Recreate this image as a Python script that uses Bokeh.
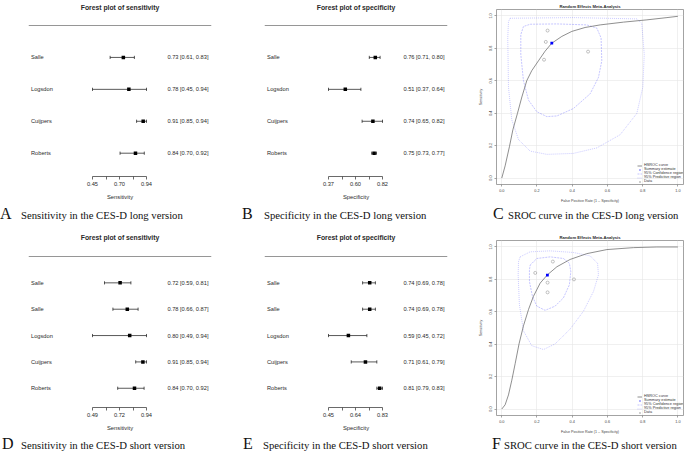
import numpy as np
from bokeh.plotting import figure
from bokeh.models import Range1d, FixedTicker, Span, Div, PrintfTickFormatter, Legend, LegendItem
from bokeh.layouts import row, column
from bokeh.embed import file_html
from bokeh.resources import INLINE
from bokeh.core.properties import value

# ---------------- data ----------------
long_studies = ["Salle", "Logsdon", "Cuijpers", "Roberts"]
long_sens = [0.73, 0.78, 0.91, 0.84]
long_sens_lo = [0.61, 0.45, 0.85, 0.70]
long_sens_hi = [0.83, 0.94, 0.94, 0.92]
long_spec = [0.76, 0.51, 0.74, 0.75]
long_spec_lo = [0.71, 0.37, 0.65, 0.73]
long_spec_hi = [0.80, 0.64, 0.82, 0.77]

short_studies = ["Salle", "Salle", "Logsdon", "Cuijpers", "Roberts"]
short_sens = [0.72, 0.78, 0.80, 0.91, 0.84]
short_sens_lo = [0.59, 0.66, 0.49, 0.85, 0.70]
short_sens_hi = [0.81, 0.87, 0.94, 0.94, 0.92]
short_spec = [0.74, 0.74, 0.59, 0.71, 0.81]
short_spec_lo = [0.69, 0.69, 0.45, 0.61, 0.79]
short_spec_hi = [0.78, 0.78, 0.72, 0.79, 0.83]

# forest axis ends and labels (first, middle, last)
axis_A = [0.45, 0.94]; axis_A_labels = ["0.45", "0.70", "0.94"]
axis_B = [0.37, 0.82]; axis_B_labels = ["0.37", "0.60", "0.82"]
axis_D = [0.49, 0.94]; axis_D_labels = ["0.49", "0.72", "0.94"]
axis_E = [0.45, 0.83]; axis_E_labels = ["0.45", "0.64", "0.83"]

# SROC: HSROC curves (FPR, sensitivity)
long_curve_fpr = [0.0, 0.019, 0.044, 0.063, 0.089, 0.114, 0.142, 0.170, 0.208, 0.246, 0.284,
                  0.341, 0.398, 0.473, 0.559, 0.691, 0.824, 0.938, 1.0]
long_curve_sens = [0.0, 0.075, 0.196, 0.298, 0.399, 0.500, 0.601, 0.662, 0.723, 0.783, 0.832,
                   0.874, 0.905, 0.929, 0.945, 0.962, 0.976, 0.990, 0.998]
short_curve_fpr = [0.0, 0.019, 0.038, 0.057, 0.076, 0.098, 0.123, 0.152, 0.180, 0.218, 0.259,
                   0.313, 0.388, 0.483, 0.597, 0.748, 0.881, 1.0]
short_curve_sens = [0.0, 0.026, 0.087, 0.178, 0.280, 0.402, 0.513, 0.615, 0.696, 0.777, 0.828,
                    0.878, 0.923, 0.959, 0.984, 0.996, 1.0, 1.0]

# 95% confidence regions
long_conf_fpr = [0.161, 0.313, 0.483, 0.540, 0.564, 0.568, 0.549, 0.502, 0.407, 0.313, 0.256,
                 0.199, 0.152, 0.123, 0.108, 0.108, 0.123]
long_conf_sens = [0.949, 0.951, 0.945, 0.925, 0.864, 0.723, 0.621, 0.520, 0.429, 0.383, 0.379,
                  0.409, 0.480, 0.601, 0.763, 0.885, 0.935]
short_conf_fpr = [0.161, 0.199, 0.275, 0.350, 0.384, 0.392, 0.384, 0.350, 0.303, 0.246, 0.199,
                  0.174, 0.157, 0.157]
short_conf_sens = [0.888, 0.929, 0.939, 0.929, 0.899, 0.848, 0.767, 0.686, 0.635, 0.609, 0.635,
                   0.696, 0.787, 0.858]

# 95% predictive regions
long_pred_fpr = [0.047, 0.407, 0.767, 0.795, 0.809, 0.801, 0.767, 0.672, 0.540, 0.407, 0.256,
                 0.161, 0.095, 0.057, 0.038, 0.034, 0.038]
long_pred_sens = [0.986, 0.990, 0.982, 0.955, 0.763, 0.561, 0.399, 0.267, 0.186, 0.152, 0.146,
                  0.166, 0.237, 0.358, 0.561, 0.864, 0.965]
short_pred_fpr = [0.104, 0.161, 0.275, 0.407, 0.502, 0.544, 0.549, 0.521, 0.464, 0.388, 0.303,
                  0.237, 0.170, 0.123, 0.100, 0.093, 0.095]
short_pred_sens = [0.939, 0.970, 0.976, 0.966, 0.945, 0.899, 0.828, 0.726, 0.604, 0.493, 0.402,
                   0.367, 0.391, 0.483, 0.645, 0.828, 0.909]

# summary estimates (FPR, sensitivity)
long_summary = [0.284, 0.832]
short_summary = [0.259, 0.826]

sroc_ticks = [0.0, 0.2, 0.4, 0.6, 0.8, 1.0]

# ---------------- layout helpers ----------------
FONT = "Liberation Sans"
SERIF = "Liberation Serif"
TXT = "#2a2a2a"


def forest(title, xlabel, names, est, lo, hi, axis_ends, axis_labels, w, h,
           title_px, line_px, axis_px):
    k = len(names)
    left = 28
    fw = 183
    right = w - left - fw
    bottom = h - axis_px
    ppu = (axis_px - line_px) / (k + 0.73)
    y0 = 0.27
    y1 = k + 1 + line_px / ppu
    a0, a1 = axis_ends
    sp = a1 - a0
    x0 = a0 - 64 / 54 * sp
    x1 = a1 + 65 / 54 * sp
    p = figure(width=w, height=h, x_range=Range1d(x0, x1), y_range=Range1d(y0, y1),
               output_backend="svg", toolbar_location=None, y_axis_location=None,
               min_border_left=left, min_border_right=right, min_border_top=0,
               min_border_bottom=bottom)
    p.grid.visible = False
    p.outline_line_color = None
    p.background_fill_color = "white"
    p.border_fill_color = "white"

    title_y = k + 1 + (line_px - title_px) / ppu
    p.text(x=[(x0 + x1) / 2], y=[title_y], text=[title], text_font=value(FONT),
           text_font_size=value("6.8px"), text_font_style="bold", text_align="center",
           text_baseline="middle", text_color=TXT)

    ys = [k - i for i in range(k)]
    p.add_layout(Span(location=k + 1, dimension="width", line_color="#8a8a8a", line_width=0.9))
    p.segment(x0=lo, y0=ys, x1=hi, y1=ys, line_color="#111111", line_width=0.7)
    p.scatter(x=lo, y=ys, marker="dash", angle=np.pi / 2, size=3.2, line_color="#111111", line_width=0.7)
    p.scatter(x=hi, y=ys, marker="dash", angle=np.pi / 2, size=3.2, line_color="#111111", line_width=0.7)
    p.scatter(x=est, y=ys, marker="square", size=3.5, fill_color="#000000", line_color=None)

    span_x = x1 - x0
    lab_x = x0 + 2.5 / fw * span_x
    val_x = x1 - 3 / fw * span_x
    p.text(x=[lab_x] * k, y=ys, text=names, text_font=value(FONT), text_font_size=value("5.7px"),
           text_align="left", text_baseline="middle", text_color=TXT)
    vals = [f"{e:.2f} [{l:.2f}, {u:.2f}]" for e, l, u in zip(est, lo, hi)]
    p.text(x=[val_x] * k, y=ys, text=vals, text_font=value(FONT), text_font_size=value("5.7px"),
           text_align="right", text_baseline="middle", text_color=TXT)

    ticks = [float(t) for t in np.linspace(a0, a1, 5)]
    ax = p.xaxis[0]
    ax.bounds = (a0, a1)
    ax.ticker = FixedTicker(ticks=ticks)
    ax.major_label_overrides = {ticks[0]: axis_labels[0], ticks[1]: "", ticks[2]: axis_labels[1],
                                ticks[3]: "", ticks[4]: axis_labels[2]}
    ax.axis_label = xlabel
    ax.axis_label_text_font = FONT
    ax.axis_label_text_font_style = "normal"
    ax.axis_label_text_font_size = "5.8px"
    ax.axis_label_text_color = TXT
    ax.axis_label_standoff = 5
    ax.major_label_text_font = FONT
    ax.major_label_text_font_size = "5.7px"
    ax.major_label_text_color = TXT
    ax.major_label_standoff = 2
    ax.major_tick_out = 3
    ax.major_tick_in = 0
    ax.minor_tick_line_color = None
    ax.axis_line_color = "#444444"
    ax.axis_line_width = 0.8
    ax.major_tick_line_color = "#444444"
    ax.major_tick_line_width = 0.8
    return p


def closed(a):
    return list(a) + [a[0]]


def sroc(curve_x, curve_y, conf_x, conf_y, pred_x, pred_y, summary, data_fpr, data_sens,
         w, h, top, frame_bottom):
    left = 36
    fw = 187
    right = w - left - fw
    bottom = h - frame_bottom
    p = figure(width=w, height=h, x_range=Range1d(-0.03, 1.032), y_range=Range1d(-0.04, 1.04),
               output_backend="svg", toolbar_location=None,
               min_border_left=left, min_border_right=right, min_border_top=top,
               min_border_bottom=bottom, title="Random Effects Meta-Analysis")
    p.background_fill_color = "white"
    p.border_fill_color = "white"
    p.outline_line_color = "#8c8c8c"
    p.outline_line_width = 0.8
    p.title.align = "center"
    p.title.text_font = FONT
    p.title.text_font_size = "4.2px"
    p.title.text_font_style = "bold"
    p.title.text_color = TXT
    p.title.standoff = 1

    for g in (p.xgrid[0], p.ygrid[0]):
        g.ticker = FixedTicker(ticks=sroc_ticks)
        g.grid_line_color = "#e6e6e6"
        g.grid_line_width = 0.6
    for ax in (p.xaxis[0], p.yaxis[0]):
        ax.ticker = FixedTicker(ticks=sroc_ticks)
        ax.formatter = PrintfTickFormatter(format="%.1f")
        ax.axis_line_color = None
        ax.major_tick_out = 2
        ax.major_tick_in = 0
        ax.major_tick_line_color = "#666666"
        ax.major_tick_line_width = 0.6
        ax.minor_tick_line_color = None
        ax.major_label_text_font = FONT
        ax.major_label_text_font_size = "3.8px"
        ax.major_label_text_color = "#444444"
        ax.major_label_standoff = 2
        ax.axis_label_text_font = FONT
        ax.axis_label_text_font_style = "normal"
        ax.axis_label_text_font_size = "3.7px"
        ax.axis_label_text_color = "#444444"
        ax.axis_label_standoff = 4
    p.xaxis[0].axis_label = "False Positive Rate (1 \u2013 Specificity)"
    p.yaxis[0].axis_label = "Sensitivity"
    p.yaxis[0].major_label_orientation = "vertical"

    r_pred = p.line(closed(pred_x), closed(pred_y), line_color="#3a3aff", line_alpha=0.38,
                    line_width=0.7, line_dash="1 1")
    r_conf = p.line(closed(conf_x), closed(conf_y), line_color="#3a3aff", line_alpha=0.42,
                    line_width=0.7, line_dash="2 1")
    r_curve = p.line(curve_x, curve_y, line_color="#6a6a6a", line_width=0.75)
    r_data = p.scatter(data_fpr, data_sens, marker="circle", size=3.0, fill_color=None,
                       line_color="#999999", line_width=0.6)
    r_sum = p.scatter([summary[0]], [summary[1]], marker="square", size=2.8,
                      fill_color="#0000ff", line_color=None)

    legend = Legend(items=[
        LegendItem(label="HSROC curve", renderers=[r_curve]),
        LegendItem(label="Summary estimate", renderers=[r_sum]),
        LegendItem(label="95% Confidence region", renderers=[r_conf]),
        LegendItem(label="95% Predictive region", renderers=[r_pred]),
        LegendItem(label="Data", renderers=[r_data]),
    ])
    legend.location = (fw - 46, 1)
    legend.margin = 0
    legend.padding = 0
    legend.spacing = 0
    legend.glyph_width = 5
    legend.glyph_height = 3
    legend.label_height = 3
    legend.label_standoff = 2
    legend.label_text_font = FONT
    legend.label_text_font_size = "3.8px"
    legend.label_text_color = "#333333"
    legend.border_line_color = None
    legend.background_fill_alpha = 0
    p.add_layout(legend)
    return p


def caption(letter, text, w, h, lh, letter_x, text_x):
    gap = text_x - letter_x
    html = (f'<div style="width:{w}px;height:{h}px;line-height:{lh}px;white-space:nowrap;'
            f'font-family:\'{SERIF}\',serif;font-size:10.7px;color:#111;padding-left:{letter_x}px;'
            f'box-sizing:border-box;overflow:hidden">'
            f'<span style="display:inline-block;width:{gap}px;font-size:16px">{letter}</span>'
            f'{text}</div>')
    return Div(text=html, width=w, height=h, margin=0)


WA, WB, WC = 236, 224, 225
H1F, H1C = 205, 21
H2F, H2C = 210, 18

fA = forest("Forest plot of sensitivity", "Sensitivity", long_studies, long_sens, long_sens_lo,
            long_sens_hi, axis_A, axis_A_labels, WA, H1F, 7, 25, 176)
fB = forest("Forest plot of specificity", "Specificity", long_studies, long_spec, long_spec_lo,
            long_spec_hi, axis_B, axis_B_labels, WB, H1F, 7, 25, 176)
fC = sroc(long_curve_fpr, long_curve_sens, long_conf_fpr, long_conf_sens, long_pred_fpr,
          long_pred_sens, long_summary, [1 - s for s in long_spec], long_sens, WC, H1F, 9, 188)

fD = forest("Forest plot of sensitivity", "Sensitivity", short_studies, short_sens, short_sens_lo,
            short_sens_hi, axis_D, axis_D_labels, WA, H2F, 11, 30, 181)
fE = forest("Forest plot of specificity", "Specificity", short_studies, short_spec, short_spec_lo,
            short_spec_hi, axis_E, axis_E_labels, WB, H2F, 11, 30, 181)
fF = sroc(short_curve_fpr, short_curve_sens, short_conf_fpr, short_conf_sens, short_pred_fpr,
          short_pred_sens, short_summary, [1 - s for s in short_spec], short_sens, WC, H2F, 14, 191)

cA = caption("A", "Sensitivity in the CES-D long version", WA, H1C, 18, 0, 21)
cB = caption("B", "Specificity in the CES-D long version", WB, H1C, 18, 6, 28)
cC = caption("C", "SROC curve in the CES-D long version", WC, H1C, 18, 33, 48)
cD = caption("D", "Sensitivity in the CES-D short version", WA, H2C, 16, 2, 21)
cE = caption("E", "Specificity in the CES-D short version", WB, H2C, 16, 7, 27)
cF = caption("F", "SROC curve in the CES-D short version", WC, H2C, 16, 32, 44)

layout = column(
    row(column(fA, cA), column(fB, cB), column(fC, cC)),
    row(column(fD, cD), column(fE, cE), column(fF, cF)),
)

open("out.html", "w").write(file_html(layout, INLINE, title="CES-D meta-analysis"))
